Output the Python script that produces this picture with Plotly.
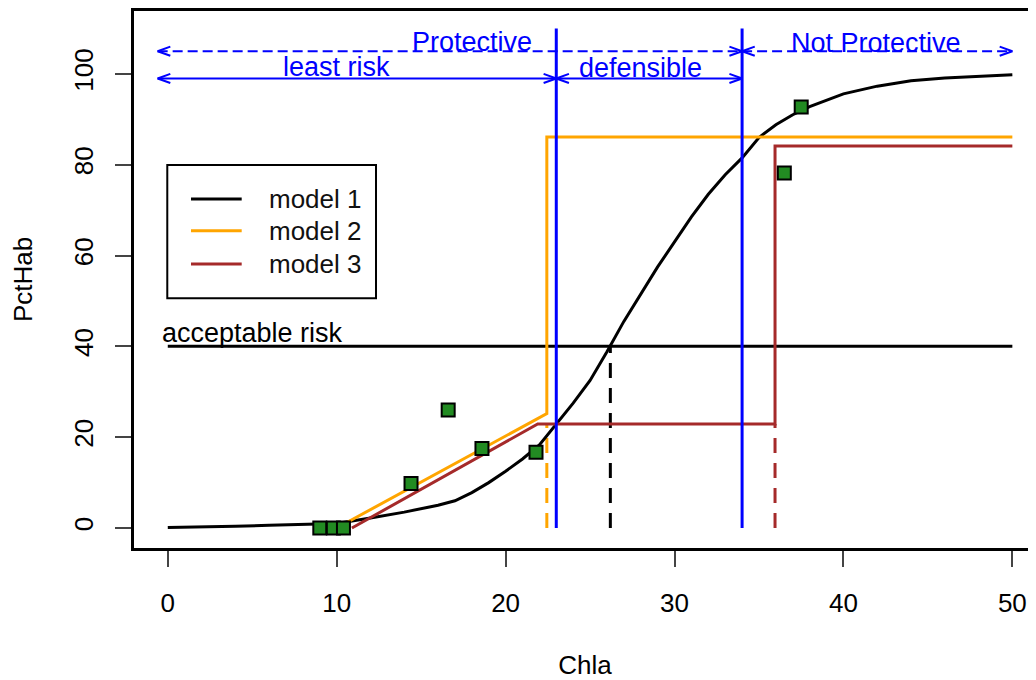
import plotly.graph_objects as go

# ---- data ----
obs_x = [9.0, 9.8, 10.4, 14.4, 16.6, 18.6, 21.8, 36.5, 37.5]
obs_y = [0.0, 0.0, 0.0, 9.8, 26.0, 17.5, 16.7, 78.2, 92.7]

m1_x = [0, 2, 4, 6, 8, 10, 12, 14, 16, 17, 18, 19, 20, 21, 22, 23, 24, 25, 26, 27, 28,
        29, 30, 31, 32, 33, 34, 35, 36, 37, 38, 40, 42, 44, 46, 48, 50]
m1_y = [0.1, 0.2, 0.4, 0.6, 0.8, 1.0, 2.2, 3.5, 5.0, 6.0, 7.8, 10.0, 12.5, 15.2, 18.3, 22.8,
        27.5, 32.5, 38.8, 45.5, 51.5, 57.5, 63.0, 68.5, 73.5, 77.8, 81.5, 86.0, 88.8, 91.0,
        92.8, 95.6, 97.3, 98.5, 99.1, 99.4, 99.8]

m2_x = [10.0, 22.44, 22.44, 50.0]
m2_y = [0.0, 25.2, 86.1, 86.1]

m3_x = [10.9, 21.9, 35.95, 35.95, 50.0]
m3_y = [0.0, 22.9, 22.9, 84.1, 84.1]

model_names = ["model 1", "model 2", "model 3"]

acceptable_risk = 40
x_at_risk = 26.2
bounds = [23.0, 34.0]
row_solid = 99
row_dashed = 105
arrow_left = -0.6
arrow_right = 50.0

x_ticks = [0, 10, 20, 30, 40, 50]
y_ticks = [0, 20, 40, 60, 80, 100]

FONT = "Liberation Sans, Arial, sans-serif"
BLUE = "#0000FF"
ORANGE = "#FFA500"
BROWN = "#A52A2A"
GREEN = "#228B22"
model_colors = ["black", ORANGE, BROWN]

fig = go.Figure()

# horizontal acceptable-risk line
fig.add_trace(go.Scatter(x=[0, 50], y=[acceptable_risk, acceptable_risk], mode="lines",
                         line=dict(color="black", width=3), showlegend=False, hoverinfo="skip"))
# dashed verticals
fig.add_trace(go.Scatter(x=[x_at_risk, x_at_risk], y=[0, acceptable_risk], mode="lines",
                         line=dict(color="black", width=3, dash="15px,10px"), showlegend=False))
fig.add_trace(go.Scatter(x=[m2_x[1], m2_x[1]], y=[0, m3_y[1]], mode="lines",
                         line=dict(color=ORANGE, width=3, dash="15px,10px"), showlegend=False))
fig.add_trace(go.Scatter(x=[m3_x[2], m3_x[2]], y=[0, m3_y[2]], mode="lines",
                         line=dict(color=BROWN, width=3, dash="15px,10px"), showlegend=False))

# models
for mx, my, nm, col in zip([m1_x, m2_x, m3_x], [m1_y, m2_y, m3_y], model_names, model_colors):
    fig.add_trace(go.Scatter(x=mx, y=my, mode="lines", name=nm,
                             line=dict(color=col, width=3), showlegend=False))

# blue boundaries
for b in bounds:
    fig.add_trace(go.Scatter(x=[b, b], y=[0, 110], mode="lines",
                             line=dict(color=BLUE, width=3), showlegend=False))

# arrows
HX, HY = 0.75, 1.0
def arrow(x0, x1, y, dash):
    fig.add_trace(go.Scatter(x=[x0, x1], y=[y, y], mode="lines",
                             line=dict(color=BLUE, width=2, dash=dash), showlegend=False))
    hx = [x0 + HX, x0, x0 + HX, None, x1 - HX, x1, x1 - HX]
    hy = [y + HY, y, y - HY, None, y + HY, y, y - HY]
    fig.add_trace(go.Scatter(x=hx, y=hy, mode="lines",
                             line=dict(color=BLUE, width=2), showlegend=False))

arrow(arrow_left, bounds[0], row_solid, "solid")
arrow(bounds[0], bounds[1], row_solid, "solid")
arrow(arrow_left, bounds[1], row_dashed, "10px,5px")
arrow(bounds[1], arrow_right, row_dashed, "10px,5px")

# observations
fig.add_trace(go.Scatter(x=obs_x, y=obs_y, mode="markers", showlegend=False,
                         marker=dict(symbol="square", size=13, color=GREEN,
                                     line=dict(color="black", width=2))))

labels = [
    (18.0, 107.1, "Protective", BLUE),
    (10.0, 101.6, "least risk", BLUE),
    (28.0, 101.2, "defensible", BLUE),
    (41.9, 106.9, "Not Protective", BLUE),
    (5.0, 43.0, "acceptable risk", "black"),
]
for x, y, t, c in labels:
    fig.add_annotation(x=x, y=y, text=t, showarrow=False, xanchor="center", yanchor="middle",
                       font=dict(family=FONT, size=27, color=c))

# legend box (drawn in paper coordinates, like R's legend())
PT, PB = 3, 540  # plot-area top/bottom in figure px
def py(page_y):
    return (PB - (page_y - 8)) / (PB - PT)

fig.add_shape(type="rect", xref="paper", yref="paper", x0=0.0369, x1=0.2683,
              y0=py(298.3), y1=py(165.0),
              line=dict(color="black", width=2), fillcolor="white", layer="above")
leg_rows = [py(199.0), py(230.7), py(264.0)]
for ry, nm, col in zip(leg_rows, model_names, model_colors):
    fig.add_shape(type="line", xref="paper", yref="paper", x0=0.0632, x1=0.1194, y0=ry, y1=ry,
                  line=dict(color=col, width=3), layer="above")
    fig.add_annotation(xref="paper", yref="paper", x=0.1478, y=ry, text=nm, showarrow=False,
                       xanchor="left", yanchor="middle",
                       font=dict(family=FONT, size=26, color="#111111"))

# page body has an 8px default margin -> figure is 1028x672 to fill the 1036x680 window
fig.update_layout(
    width=1028, height=672,
    margin=dict(l=126, r=0, t=PT, b=672 - PB, autoexpand=False),
    paper_bgcolor="white", plot_bgcolor="white",
    font=dict(family=FONT, size=26, color="black"),
    xaxis=dict(range=[-2.0, 51.4], tickvals=x_ticks, ticks="outside", ticklen=16, tickwidth=2,
               showline=True, linewidth=2.5, linecolor="black", mirror=True, showgrid=False,
               zeroline=False, ticklabelstandoff=14, tickfont=dict(size=26), automargin=False,
               title=dict(text="Chla", standoff=57, font=dict(size=26))),
    yaxis=dict(range=[-4.4, 113.85], tickvals=y_ticks, ticks="outside", ticklen=16, tickwidth=2,
               showline=True, linewidth=2.5, linecolor="black", showgrid=False, zeroline=False,
               tickangle=-90, ticklabelstandoff=12, tickfont=dict(size=26), automargin=False,
               title=dict(text="PctHab", standoff=30, font=dict(size=26))),
    showlegend=False,
)

fig.write_html("out.html")
